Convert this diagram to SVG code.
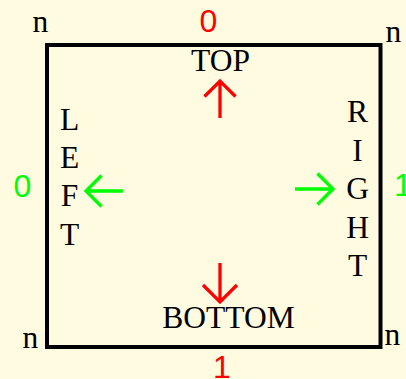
<svg xmlns="http://www.w3.org/2000/svg" width="406" height="379" viewBox="0 0 406 379">
<style>
.serif{font-family:"Liberation Serif","Times New Roman",serif;font-size:31.5px;fill:#000}
.mid{text-anchor:middle}
.digit{font-family:"Liberation Sans",Arial,sans-serif;font-size:32px}
.red{fill:#ff0000}
.green{fill:#00ff00}
.arrow{fill:none;stroke-width:3.3;stroke-linecap:butt;stroke-linejoin:miter}
.ar{stroke:#ff0000}
.ag{stroke:#00ff00}
</style>
<rect x="0" y="0" width="406" height="379" fill="#fefbe0"/>
<g id="box">
<rect x="47" y="45" width="333.5" height="302" fill="none" stroke="#000" stroke-width="4"/>
</g>
<g id="corners" class="serif">
<text x="32.5" y="32">n</text>
<text x="385.5" y="42">n</text>
<text x="22.5" y="348">n</text>
<text x="384.5" y="345">n</text>
</g>
<g id="top-label">
<text class="serif mid" x="220.5" y="70.5">TOP</text>
<text class="digit red mid" x="208.5" y="31.5">0</text>
</g>
<g id="bottom-label">
<text class="serif mid" x="228.5" y="327.5">BOTTOM</text>
<text class="digit red mid" x="222" y="378">1</text>
</g>
<g id="left-label" class="serif mid">
<text x="69.5" y="129.5">L</text>
<text x="69.5" y="167.5">E</text>
<text x="69.5" y="206">F</text>
<text x="69.5" y="244.5">T</text>
<text class="digit green" x="22.5" y="197">0</text>
</g>
<g id="right-label" class="serif mid">
<text x="357.5" y="122">R</text>
<text x="357.5" y="160.5">I</text>
<text x="357.5" y="199">G</text>
<text x="357.5" y="237.5">H</text>
<text x="357.5" y="275.5">T</text>
<text class="digit green" x="403" y="196">1</text>
</g>
<g id="connectors">
<path class="arrow ar" d="M220,118 V81 M204.5,96.5 L220,81 L235.5,96.5"/>
<path class="arrow ar" d="M220,263 V302 M203,285 L220,302 L237,285"/>
<path class="arrow ag" d="M123,191 H86 M101.5,175.5 L86,191 L101.5,206.5"/>
<path class="arrow ag" d="M295,189 H333 M317.5,173.5 L333,189 L317.5,204.5"/>
</g>
</svg>
